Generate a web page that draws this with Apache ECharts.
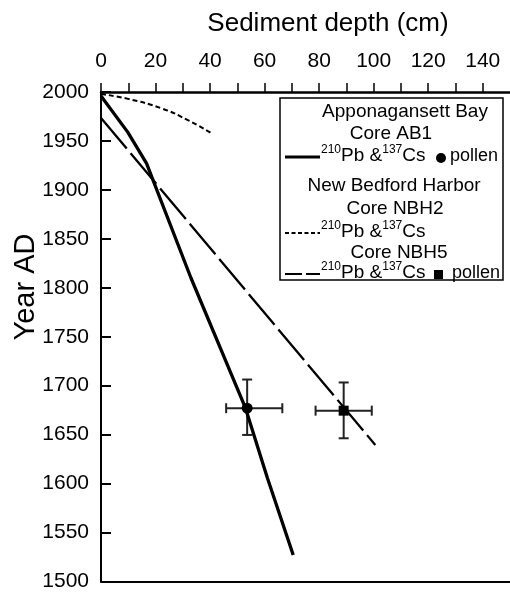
<!DOCTYPE html>
<html>
<head>
<meta charset="utf-8">
<script src="https://cdn.jsdelivr.net/npm/echarts@6/dist/echarts.min.js"></script>
<style>
  html, body { margin: 0; padding: 0; background: #fff; }
  #main { width: 510px; height: 592px; }
</style>
</head>
<body>
<div id="main"></div>
<script>
// 深度 (cm) / 年份
var ab1Depth = [0, 9.8, 16.7, 33, 53, 61, 70.5];
var ab1Year = [1996, 1959, 1927, 1810, 1677, 1606, 1527];
var nbh2Depth = [0, 9.9, 22.1, 31.7, 40.8];
var nbh2Year = [1998, 1993, 1983.4, 1971.5, 1957.3];
var nbh5Depth = [0, 100.6];
var nbh5Year = [1973.5, 1639.5];
// 花粉定年点 + 误差
var pollenCore = ['AB1', 'NBH5'];
var pollenDepth = [53.6, 89.0];
var pollenYear = [1677, 1674.5];
var pollenDepthLo = [45.9, 78.7];
var pollenDepthHi = [66.5, 99.3];
var pollenYearLo = [1649.7, 1646.3];
var pollenYearHi = [1706.3, 1703.3];
var pollenSymbol = ['circle', 'rect'];

var FONT = 'Liberation Sans, Arial, sans-serif';

function pairs(xs, ys) {
  return xs.map(function (x, i) { return [x, ys[i]]; });
}

var errData = pollenDepth.map(function (d, i) {
  return [d, pollenYear[i], pollenDepthLo[i], pollenDepthHi[i], pollenYearLo[i], pollenYearHi[i]];
});

function errorBars(params, api) {
  var x = api.value(0), y = api.value(1);
  var l = api.coord([api.value(2), y]);
  var r = api.coord([api.value(3), y]);
  var b = api.coord([x, api.value(4)]);
  var t = api.coord([x, api.value(5)]);
  var cap = 5;
  var st = { stroke: '#222', lineWidth: 2 };
  function seg(x1, y1, x2, y2) {
    return { type: 'line', shape: { x1: x1, y1: y1, x2: x2, y2: y2 }, style: st };
  }
  return {
    type: 'group',
    children: [
      seg(l[0], l[1], r[0], r[1]),
      seg(l[0], l[1] - cap, l[0], l[1] + cap),
      seg(r[0], r[1] - cap, r[0], r[1] + cap),
      seg(t[0], t[1], b[0], b[1]),
      seg(t[0] - cap, t[1], t[0] + cap, t[1]),
      seg(b[0] - cap, b[1], b[0] + cap, b[1])
    ]
  };
}

// 图例里的上标
var supRich = {
  n: { fontSize: 19, fontFamily: FONT, lineHeight: 24, fill: '#000', color: '#000' },
  s: { fontSize: 12, fontFamily: FONT, lineHeight: 13, verticalAlign: 'top', fill: '#000', color: '#000' }
};
var isoText = '{s|210}{n|Pb &}{s|137}{n|Cs}';

function legendText(str, x, y, align, size) {
  return {
    type: 'text', x: x, y: y, z: 100,
    style: {
      text: str, fontSize: size || 19, fontFamily: FONT, fill: '#000',
      align: align || 'center', verticalAlign: 'middle',
      textAlign: align || 'center', textVerticalAlign: 'middle'
    }
  };
}
function legendRich(x, y) {
  return {
    type: 'text', x: x, y: y, z: 100,
    style: {
      text: isoText, rich: supRich, fill: '#000',
      align: 'left', verticalAlign: 'middle',
      textAlign: 'left', textVerticalAlign: 'middle'
    }
  };
}
function legendLine(x1, x2, y, w, dash) {
  return {
    type: 'line', z: 100,
    shape: { x1: x1, y1: y, x2: x2, y2: y },
    style: { stroke: '#000', lineWidth: w, lineDash: dash || null }
  };
}

var chart = echarts.init(document.getElementById('main'), null, { renderer: 'canvas' });

chart.setOption({
  animation: false,
  backgroundColor: '#fff',
  textStyle: { fontFamily: FONT },
  title: {
    text: 'Sediment depth (cm)',
    left: 323, top: 6, textAlign: 'center',
    textStyle: { fontSize: 26, fontWeight: 'normal', color: '#000', fontFamily: FONT }
  },
  grid: { left: 101, top: 92, width: 412.5, height: 492 },
  xAxis: [{
    type: 'value', position: 'top', min: 0, max: 150, interval: 10,
    axisLine: { show: true, lineStyle: { color: '#000', width: 2.5 } },
    axisTick: { show: true, inside: false, length: 9, lineStyle: { color: '#000', width: 1.5 } },
    axisLabel: {
      color: '#000', fontSize: 21, fontFamily: FONT, margin: 20,
      showMaxLabel: false,
      formatter: function (v) { return v % 20 === 0 ? String(v) : ''; }
    },
    splitLine: { show: false }
  }, {
    type: 'value', position: 'bottom', min: 0, max: 150,
    axisLine: { show: true, onZero: false, lineStyle: { color: '#000', width: 2 } },
    axisTick: { show: false }, axisLabel: { show: false }, splitLine: { show: false }
  }],
  yAxis: {
    type: 'value', min: 1500, max: 2000, interval: 50,
    axisLine: { show: true, lineStyle: { color: '#000', width: 2 } },
    axisTick: { show: true, inside: true, length: 10, lineStyle: { color: '#000', width: 2 } },
    axisLabel: {
      color: '#000', fontSize: 21, fontFamily: FONT, margin: 12,
      formatter: function (v) { return String(v); }
    },
    splitLine: { show: false }
  },
  series: [
    {
      name: 'pollen error', type: 'custom', z: 1,
      renderItem: errorBars, data: errData
    },
    {
      name: 'AB1', type: 'line', z: 2, data: pairs(ab1Depth, ab1Year),
      showSymbol: false, symbol: 'none',
      lineStyle: { color: '#000', width: 3.3 }
    },
    {
      name: 'NBH2', type: 'line', z: 2, data: pairs(nbh2Depth, nbh2Year),
      smooth: true, showSymbol: false, symbol: 'none',
      lineStyle: { color: '#000', width: 2, type: [5, 3] }
    },
    {
      name: 'NBH5', type: 'line', z: 2, data: pairs(nbh5Depth, nbh5Year),
      showSymbol: false, symbol: 'none',
      lineStyle: { color: '#000', width: 2.3, type: [40, 6] }
    },
    {
      name: 'pollen', type: 'scatter', z: 3,
      data: pollenDepth.map(function (d, i) {
        return { name: pollenCore[i], value: [d, pollenYear[i]], symbol: pollenSymbol[i], symbolSize: i === 0 ? 11 : 10 };
      }),
      itemStyle: { color: '#000', opacity: 1 }
    }
  ],
  graphic: [
    {
      type: 'text', x: 26, y: 287, rotation: Math.PI / 2, z: 100,
      style: {
        text: 'Year AD', fontSize: 29, fontFamily: FONT, fill: '#000',
        align: 'center', verticalAlign: 'middle', textAlign: 'center', textVerticalAlign: 'middle'
      }
    },
    {
      type: 'rect', z: 99,
      shape: { x: 280, y: 98, width: 223, height: 182 },
      style: { fill: '#fff', stroke: '#000', lineWidth: 1.5 }
    },
    legendText('Apponagansett Bay', 405, 112),
    legendText('Core AB1', 391, 134),
    legendLine(285, 320, 157, 3),
    legendRich(321, 156),
    { type: 'circle', z: 100, shape: { cx: 441, cy: 158, r: 5 }, style: { fill: '#000' } },
    legendText('pollen', 498, 156, 'right', 18),
    legendText('New Bedford Harbor', 394, 186),
    legendText('Core NBH2', 395, 209),
    legendLine(285, 320, 233, 2, [4, 2.5]),
    legendRich(321, 232),
    legendText('Core NBH5', 399, 253),
    legendLine(285, 302, 274, 2),
    legendLine(306, 320, 274, 2),
    legendRich(321, 273),
    { type: 'rect', z: 100, shape: { x: 434, y: 270, width: 9, height: 9 }, style: { fill: '#000' } },
    legendText('pollen', 500, 273, 'right', 18)
  ]
});
</script>
</body>
</html>
